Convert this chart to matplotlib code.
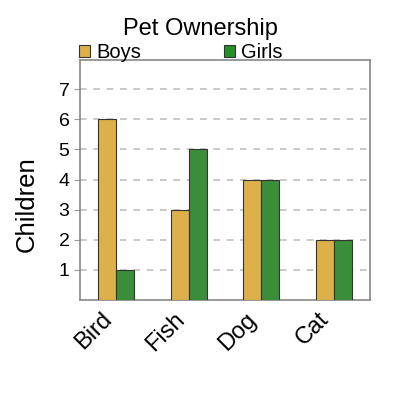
import numpy as np
import matplotlib.pyplot as plt
from matplotlib.patches import Patch

plt.rcParams['font.family'] = ['Liberation Sans', 'DejaVu Sans']

# data
pets = ['Bird', 'Fish', 'Dog', 'Cat']
boys = [6, 3, 4, 2]
girls = [1, 5, 4, 2]

boy_color = '#DEB04A'
girl_color = '#3A8E3A'
girl_legend = '#239125'

fig = plt.figure(figsize=(4, 4), dpi=100)
ax = fig.add_axes([0.20, 0.25, 0.725, 0.60])

x = np.arange(len(pets))
w = 0.25
ax.bar(x - w/2, boys, w, color=boy_color, edgecolor='#333333', linewidth=0.8, zorder=3)
ax.bar(x + w/2, girls, w, color=girl_color, edgecolor='#333333', linewidth=0.8, zorder=3)

ax.set_xlim(-0.5, 3.5)
ax.set_ylim(0, 7.97)
ax.set_yticks(range(1, 8))
ax.yaxis.grid(True, linestyle=(0, (4, 4)), color='#C0C0C0', linewidth=1.2, zorder=0)

ax.set_xticks(x)
ax.set_xticklabels(pets, rotation=45, ha='right', va='top', fontsize=17)
ax.tick_params(axis='x', length=0, pad=6)
ax.tick_params(axis='y', labelsize=14, color='#999999', length=4)

for s in ax.spines.values():
    s.set_color('#888888')
    s.set_linewidth(1.2)

fig.text(0.068, 0.49, 'Children', fontsize=18.5, rotation=90, ha='center', va='center')
fig.text(0.5, 0.9125, 'Pet Ownership', fontsize=17, ha='center', va='baseline')

handles = [Patch(facecolor=boy_color, edgecolor='#333333', linewidth=0.8),
           Patch(facecolor=girl_legend, edgecolor='#333333', linewidth=0.8)]
ax.legend(handles, ['Boys', 'Girls'], loc='lower left', bbox_to_anchor=(-0.003, 0.99),
          ncol=2, frameon=False, fontsize=14.5, handlelength=0.55, handleheight=0.55,
          handletextpad=0.3, columnspacing=4.1, borderaxespad=0, borderpad=0)

fig.savefig('out.png')
